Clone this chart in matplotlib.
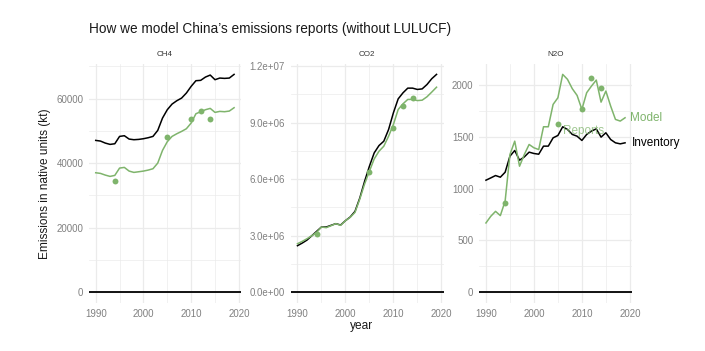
import matplotlib
matplotlib.use("Agg")
import matplotlib.pyplot as plt
import numpy as np
from matplotlib.ticker import FixedLocator, FuncFormatter

plt.rcParams['font.family'] = ['Liberation Sans', 'DejaVu Sans']

years = list(range(1990, 2020))
report_years = [1994, 2005, 2010, 2012, 2014]

ch4_inventory = [47070, 46860, 46240, 45830, 46030, 48310, 48520, 47480, 47280, 47380,
                 47590, 47900, 48310, 50170, 54000, 56590, 58340, 59380, 60200, 61760,
                 63830, 65590, 65700, 66720, 67340, 65900, 66410, 66310, 66410, 67550]
ch4_model = [37030, 36830, 36310, 35900, 36210, 38480, 38690, 37550, 37140, 37340,
             37550, 37860, 38280, 40030, 43970, 46660, 48310, 49140, 49860, 50690,
             52450, 55340, 55970, 56590, 57000, 55760, 56070, 55970, 56170, 57210]
ch4_reports = [34340, 48210, 53790, 56070, 53690]

co2_inventory = [2.464e6, 2.605e6, 2.765e6, 2.995e6, 3.226e6, 3.456e6, 3.456e6, 3.545e6, 3.634e6, 3.563e6,
                 3.793e6, 3.988e6, 4.289e6, 4.998e6, 5.884e6, 6.682e6, 7.391e6, 7.781e6, 8.012e6, 8.632e6,
                 9.518e6, 10.26e6, 10.58e6, 10.83e6, 10.83e6, 10.76e6, 10.79e6, 11.02e6, 11.33e6, 11.56e6]
co2_model = [2.570e6, 2.694e6, 2.836e6, 2.995e6, 3.173e6, 3.456e6, 3.421e6, 3.527e6, 3.634e6, 3.545e6,
             3.793e6, 3.970e6, 4.236e6, 4.945e6, 5.742e6, 6.416e6, 7.072e6, 7.480e6, 7.746e6, 8.277e6,
             8.897e6, 9.695e6, 9.996e6, 10.23e6, 10.23e6, 10.17e6, 10.19e6, 10.37e6, 10.62e6, 10.88e6]
co2_reports = [3.084e6, 6.398e6, 8.72e6, 9.907e6, 10.28e6]

n2o_inventory = [1081, 1103, 1126, 1110, 1158, 1313, 1368, 1274, 1306, 1352,
                 1339, 1332, 1410, 1410, 1490, 1513, 1597, 1571, 1523, 1506,
                 1465, 1523, 1555, 1577, 1497, 1539, 1474, 1442, 1432, 1442]
n2o_model = [668, 732, 780, 739, 880, 1329, 1458, 1216, 1329, 1426,
             1394, 1377, 1597, 1597, 1813, 1877, 2103, 2055, 1965, 1900,
             1765, 1926, 1990, 2048, 1835, 1942, 1797, 1668, 1652, 1684]
n2o_reports = [858, 1619, 1768, 2068, 1971]

gases = ["CH4", "CO2", "N2O"]
x_ticks = [1990, 2000, 2010, 2020]
x_minor = [1995, 2005, 2015]

title = "How we model China\u2019s emissions reports (without LULUCF)"
ylabel = "Emissions in native units (kt)"
xlabel = "year"

GREEN = '#7fb46c'
GRID = '#ebebeb'
TICKC = '#808080'

W, H = 705, 351
fig = plt.figure(figsize=(W / 100, H / 100), dpi=100)

panels_px = [(88.8, 241.0), (290.5, 443.5), (479.0, 632.0)]
top_px, bot_px = 63.5, 303.0

data = [
    (ch4_inventory, ch4_model, ch4_reports, [0, 20000, 40000, 60000], [10000, 30000, 50000, 70000],
     lambda v, p: f"{int(v)}"),
    (co2_inventory, co2_model, co2_reports, [0, 3e6, 6e6, 9e6, 1.2e7], [1.5e6, 4.5e6, 7.5e6, 10.5e6],
     lambda v, p: f"{v:.1e}"),
    (n2o_inventory, n2o_model, n2o_reports, [0, 500, 1000, 1500, 2000], [250, 750, 1250, 1750, 2250],
     lambda v, p: f"{int(v)}"),
]

axes = []
for i, (gas, (l, r), (inv, mod, rep, yt, ymin_t, fmt)) in enumerate(zip(gases, panels_px, data)):
    ax = fig.add_axes([l / W, 1 - bot_px / H, (r - l) / W, (bot_px - top_px) / H])
    axes.append(ax)
    allv = inv + mod + rep + [0]
    lo, hi = min(allv), max(allv)
    pad = 0.05 * (hi - lo)
    ax.set_ylim(lo - pad, hi + pad)
    xpad = 0.05 * (years[-1] - years[0])
    ax.set_xlim(years[0] - xpad, years[-1] + xpad)

    ax.xaxis.set_major_locator(FixedLocator(x_ticks))
    ax.xaxis.set_minor_locator(FixedLocator(x_minor))
    ax.yaxis.set_major_locator(FixedLocator(yt))
    ax.yaxis.set_minor_locator(FixedLocator(ymin_t))
    ax.yaxis.set_major_formatter(FuncFormatter(fmt))
    ax.grid(True, which='major', color=GRID, linewidth=0.9)
    ax.grid(True, which='minor', color=GRID, linewidth=0.5)
    ax.set_axisbelow(True)
    for s in ax.spines.values():
        s.set_visible(False)
    ax.tick_params(which='both', length=0)
    ax.tick_params(axis='x', labelsize=7, labelcolor=TICKC, pad=4.5)
    ax.tick_params(axis='y', labelsize=7, labelcolor=TICKC, pad=4)

    ax.axhline(0, color='black', linewidth=1.3, zorder=2)
    ax.plot(years, inv, color='black', linewidth=1.1, zorder=3)
    ax.plot(years, mod, color=GREEN, linewidth=1.1, zorder=3)
    ax.scatter(report_years, rep, color=GREEN, s=18, zorder=4, linewidths=0)

    fig.text((l + r) / 2 / W, 1 - 55 / H, gas, ha='center', va='center', fontsize=5.8, color='#333333')

    if gas == "N2O":
        ax.annotate("Model", (years[-1], mod[-1]), xytext=(3.5, 0), textcoords='offset points',
                    ha='left', va='center', fontsize=8.5, color=GREEN, annotation_clip=False)
        ax.annotate("Inventory", (years[-1], inv[-1]), xytext=(5, 0), textcoords='offset points',
                    ha='left', va='center', fontsize=8.5, color='black', annotation_clip=False)
        ax.annotate("Reports", (report_years[1], rep[1]), xytext=(3.5, -4.5), textcoords='offset points',
                    ha='left', va='center', fontsize=8.5, color=GREEN, alpha=0.75, annotation_clip=False)

fig.text(89 / W, 1 - 29.5 / H, title, ha='left', va='center', fontsize=9.8, color='#1a1a1a')
fig.text(45 / W, 1 - (top_px + bot_px) / 2 / H, ylabel, rotation=90, ha='center', va='center',
         fontsize=8.6, color='#1a1a1a')
fig.text(361.5 / W, 1 - 326.5 / H, xlabel, ha='center', va='center', fontsize=8.6, color='#1a1a1a')

fig.savefig("out.png", dpi=100)
